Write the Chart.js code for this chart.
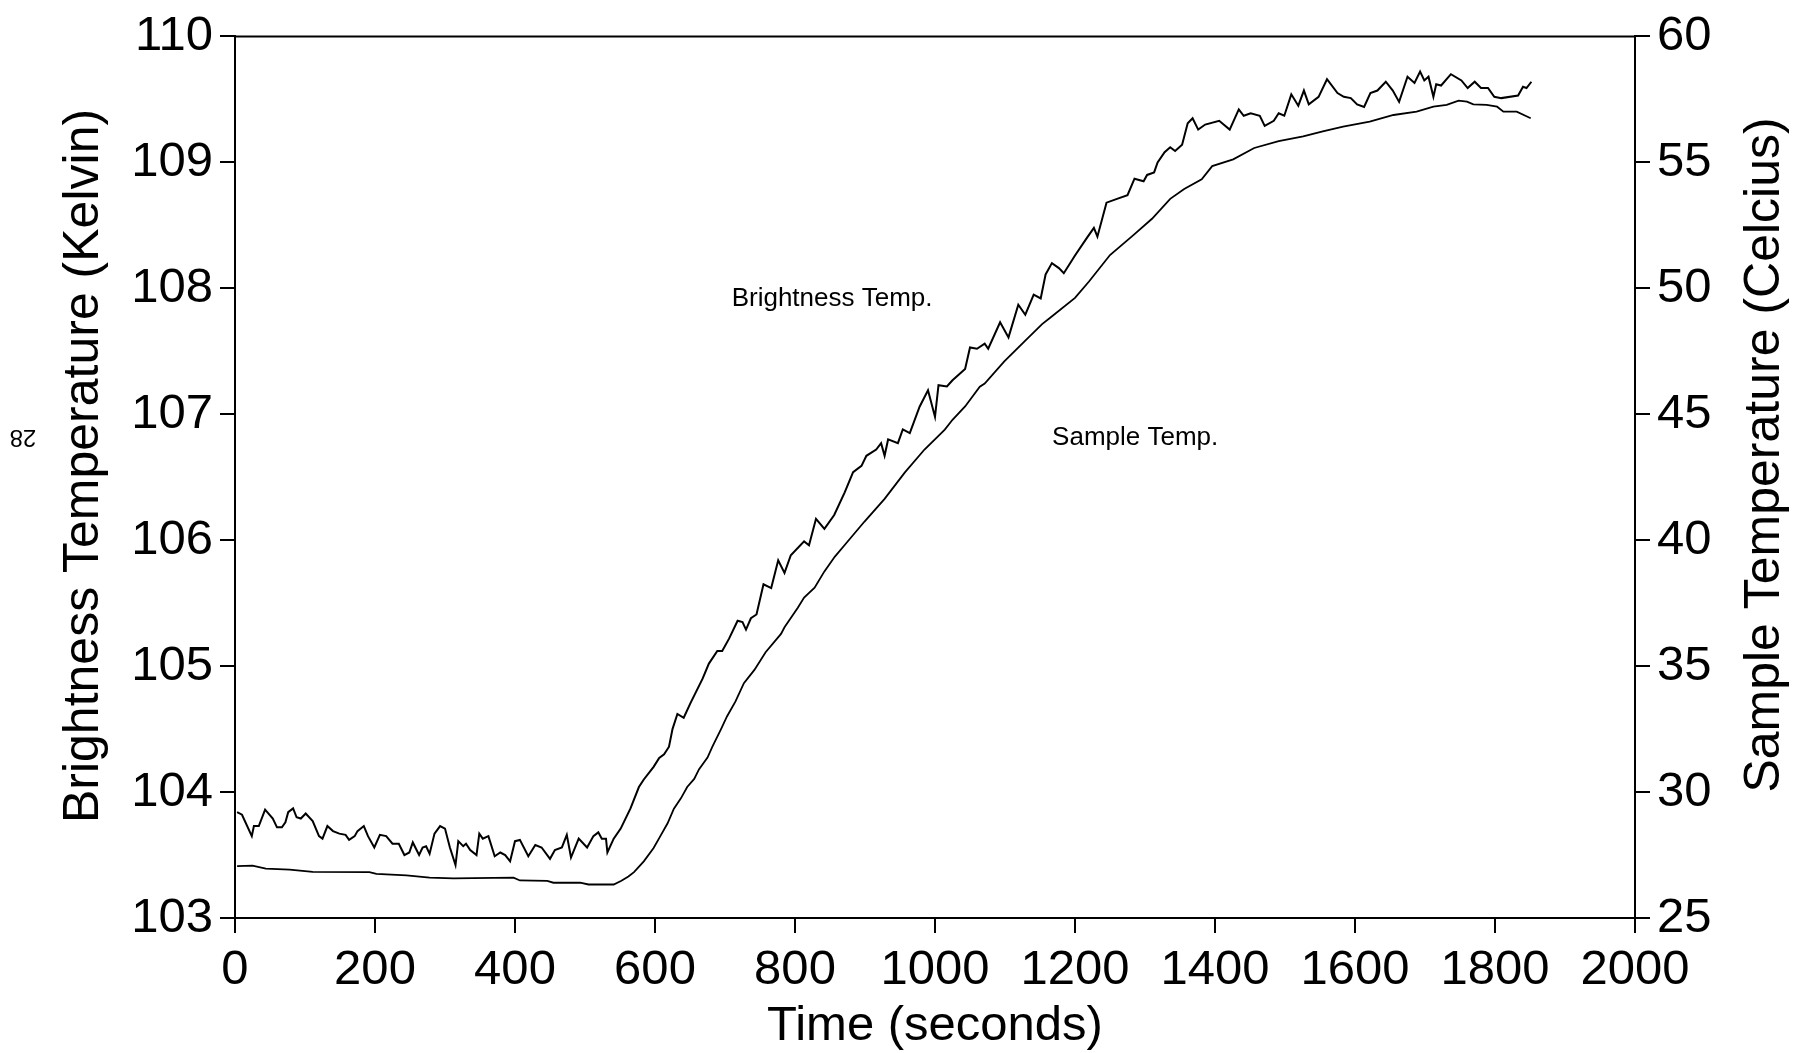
<!DOCTYPE html>
<html><head><meta charset="utf-8">
<script src="https://cdn.jsdelivr.net/npm/chart.js@4/dist/chart.umd.min.js"></script>
<style>html,body{margin:0;padding:0;background:#fff}canvas{display:block}</style>
</head><body>
<canvas id="c" width="1805" height="1053"></canvas>
<script>
// ---- tick labels ----
const timeTicks = [0, 200, 400, 600, 800, 1000, 1200, 1400, 1600, 1800, 2000];
const kelvinTicks = [103, 104, 105, 106, 107, 108, 109, 110];
const celsiusTicks = [25, 30, 35, 40, 45, 50, 55, 60];

// ---- Brightness Temp. (Kelvin, left axis) ----
const brightTime = [3,10,24,27,34,43,54,60,67,72,76,83,88,94,101,111,120,125,132,140,149,158,163,171,175,184,190,199,207,216,225,234,242,249,254,263,268,273,278,285,293,300,307,315,319,326,330,336,345,349,354,362,371,379,386,393,400,407,419,429,438,450,457,467,474,480,491,503,512,519,524,530,532,541,551,565,577,584,598,606,613,620,625,632,641,651,668,677,689,696,706,718,725,730,737,745,755,766,776,785,794,813,820,830,842,856,871,883,895,902,916,923,928,933,947,954,964,978,990,1000,1005,1017,1025,1043,1050,1060,1071,1076,1093,1105,1119,1129,1141,1151,1158,1167,1177,1184,1200,1217,1227,1232,1245,1260,1275,1285,1298,1303,1313,1318,1328,1336,1343,1353,1361,1368,1376,1386,1406,1421,1434,1441,1451,1464,1471,1484,1491,1499,1509,1519,1527,1534,1548,1560,1575,1584,1594,1603,1613,1622,1632,1644,1654,1663,1675,1685,1693,1699,1705,1712,1716,1723,1737,1752,1761,1771,1780,1790,1799,1809,1833,1840,1845,1852];
const brightKelvin = [103.84,103.82,103.65,103.73,103.73,103.86,103.79,103.72,103.72,103.76,103.84,103.87,103.80,103.79,103.83,103.77,103.65,103.63,103.73,103.69,103.67,103.66,103.62,103.65,103.69,103.73,103.65,103.56,103.66,103.65,103.59,103.59,103.50,103.52,103.60,103.50,103.56,103.57,103.51,103.67,103.73,103.71,103.56,103.42,103.61,103.57,103.59,103.54,103.50,103.67,103.63,103.65,103.49,103.52,103.50,103.45,103.61,103.62,103.49,103.58,103.56,103.47,103.54,103.56,103.66,103.48,103.63,103.56,103.65,103.68,103.63,103.63,103.52,103.63,103.71,103.87,104.04,104.10,104.20,104.27,104.30,104.36,104.50,104.62,104.59,104.71,104.90,105.02,105.12,105.12,105.22,105.36,105.35,105.29,105.38,105.41,105.65,105.62,105.84,105.74,105.88,105.99,105.96,106.17,106.09,106.20,106.38,106.54,106.59,106.67,106.72,106.77,106.67,106.80,106.77,106.88,106.85,107.06,107.19,106.98,107.23,107.22,107.27,107.36,107.53,107.52,107.56,107.52,107.73,107.61,107.87,107.79,107.95,107.92,108.11,108.20,108.16,108.12,108.26,108.40,108.48,108.41,108.68,108.71,108.74,108.87,108.85,108.90,108.92,109.00,109.08,109.12,109.09,109.14,109.31,109.35,109.26,109.30,109.33,109.26,109.42,109.37,109.39,109.37,109.29,109.33,109.39,109.37,109.54,109.45,109.57,109.46,109.52,109.66,109.55,109.52,109.51,109.46,109.44,109.55,109.57,109.64,109.57,109.48,109.68,109.63,109.72,109.65,109.68,109.52,109.62,109.61,109.70,109.65,109.59,109.64,109.59,109.59,109.52,109.51,109.53,109.60,109.59,109.64];

// ---- Sample Temp. (Celsius, right axis) ----
const sampleTime = [3,25,44,78,111,192,202,245,278,312,398,407,446,455,493,505,541,552,562,570,584,598,606,618,627,637,646,656,663,675,682,694,703,715,727,742,758,780,785,804,813,828,842,857,871,899,928,957,985,1014,1025,1043,1064,1071,1099,1129,1153,1165,1200,1220,1250,1283,1310,1336,1356,1381,1396,1426,1456,1491,1526,1554,1583,1621,1655,1688,1712,1731,1748,1760,1769,1788,1803,1812,1831,1851];
const sampleCelsius = [27.06,27.08,26.96,26.92,26.83,26.82,26.75,26.69,26.60,26.57,26.60,26.49,26.47,26.40,26.40,26.33,26.33,26.48,26.65,26.82,27.25,27.78,28.17,28.76,29.34,29.75,30.20,30.52,30.91,31.37,31.80,32.48,33.01,33.60,34.32,34.85,35.55,36.28,36.54,37.32,37.72,38.11,38.76,39.35,39.81,40.73,41.64,42.69,43.60,44.39,44.78,45.31,46.09,46.22,47.10,47.92,48.58,48.84,49.62,50.27,51.32,52.10,52.76,53.55,53.94,54.33,54.85,55.12,55.57,55.84,56.03,56.23,56.42,56.62,56.88,57.01,57.21,57.28,57.45,57.41,57.30,57.28,57.21,57.01,57.01,56.75];

// in-plot labels (placed in data coordinates)
const curveLabels = [
  {text: 'Brightness Temp.', x: 853, y: 107.92},
  {text: 'Sample Temp.', x: 1286, y: 106.81}
];
const leftTitle = 'Brightness Temperature (Kelvin)';
const rightTitle = 'Sample Temperature (Celcius)';
const bottomTitle = 'Time (seconds)';

const FONT = '"Liberation Sans", Arial, Helvetica, sans-serif';
const black = '#000';

function axisGrid() {
  return {display: true, drawOnChartArea: false, drawTicks: true, tickLength: 15, color: black, lineWidth: 2};
}

function rotatedText(ctx, text, x, y, angle, size) {
  ctx.save();
  ctx.font = size + 'px ' + FONT;
  ctx.translate(x, y);
  ctx.rotate(angle);
  ctx.fillText(text, 0, 0);
  ctx.restore();
}

const overlay = {
  id: 'overlay',
  afterDraw(chart) {
    const {ctx, chartArea: a, scales} = chart;
    ctx.save();
    ctx.strokeStyle = black;
    ctx.lineWidth = 2;
    ctx.beginPath();
    ctx.moveTo(a.left - 1, a.top);
    ctx.lineTo(a.right + 1, a.top);
    ctx.stroke();
    ctx.fillStyle = black;
    ctx.textAlign = 'center';
    ctx.textBaseline = 'middle';
    ctx.font = '26px ' + FONT;
    curveLabels.forEach(l => {
      ctx.fillText(l.text, scales.x.getPixelForValue(l.x), scales.y.getPixelForValue(l.y));
    });
    // vertical axis titles (both read bottom to top)
    rotatedText(ctx, leftTitle, 84, 466, -Math.PI / 2, 50);
    rotatedText(ctx, rightTitle, 1765, 455, -Math.PI / 2, 50);
    // page number at left margin
    rotatedText(ctx, '28', 23, 437, Math.PI, 24);
    ctx.restore();
  }
};

new Chart(document.getElementById('c'), {
  type: 'line',
  data: {
    datasets: [
      {
        label: 'Brightness Temp.',
        data: brightTime.map((t, i) => ({x: t, y: brightKelvin[i]})),
        yAxisID: 'y',
        borderColor: black,
        borderWidth: 2,
        pointRadius: 0,
        tension: 0,
        fill: false
      },
      {
        label: 'Sample Temp.',
        data: sampleTime.map((t, i) => ({x: t, y: sampleCelsius[i]})),
        yAxisID: 'y1',
        borderColor: black,
        borderWidth: 1.8,
        pointRadius: 0,
        tension: 0,
        fill: false
      }
    ]
  },
  options: {
    responsive: false,
    animation: false,
    events: [],
    layout: {padding: {top: 31, left: 0, right: 0, bottom: 0}},
    plugins: {legend: {display: false}, tooltip: {enabled: false}, title: {display: false}},
    scales: {
      x: {
        type: 'linear',
        position: 'bottom',
        min: 0, max: 2000,
        afterBuildTicks: s => { s.ticks = timeTicks.map(v => ({value: v})); },
        afterFit: s => { s.height = 135; },
        ticks: {color: black, font: {family: FONT, size: 49}, padding: 8, maxRotation: 0, autoSkip: false, callback: v => String(v)},
        grid: axisGrid(),
        border: {display: true, color: black, width: 2},
        title: {display: true, text: bottomTitle, color: black, font: {family: FONT, size: 49, lineHeight: 1.0}, padding: {top: 0, bottom: 2}}
      },
      y: {
        type: 'linear',
        position: 'left',
        min: 103, max: 110,
        afterBuildTicks: s => { s.ticks = kelvinTicks.map(v => ({value: v})); },
        afterFit: s => { s.width = 235; },
        ticks: {color: black, font: {family: FONT, size: 49}, padding: 7, callback: v => String(v)},
        grid: axisGrid(),
        border: {display: true, color: black, width: 2},
        title: {display: false}
      },
      y1: {
        type: 'linear',
        position: 'right',
        min: 25, max: 60,
        afterBuildTicks: s => { s.ticks = celsiusTicks.map(v => ({value: v})); },
        afterFit: s => { s.width = 170; },
        ticks: {color: black, font: {family: FONT, size: 49}, padding: 7, callback: v => String(v)},
        grid: axisGrid(),
        border: {display: true, color: black, width: 2},
        title: {display: false}
      }
    }
  },
  plugins: [overlay]
});
</script>
</body></html>
